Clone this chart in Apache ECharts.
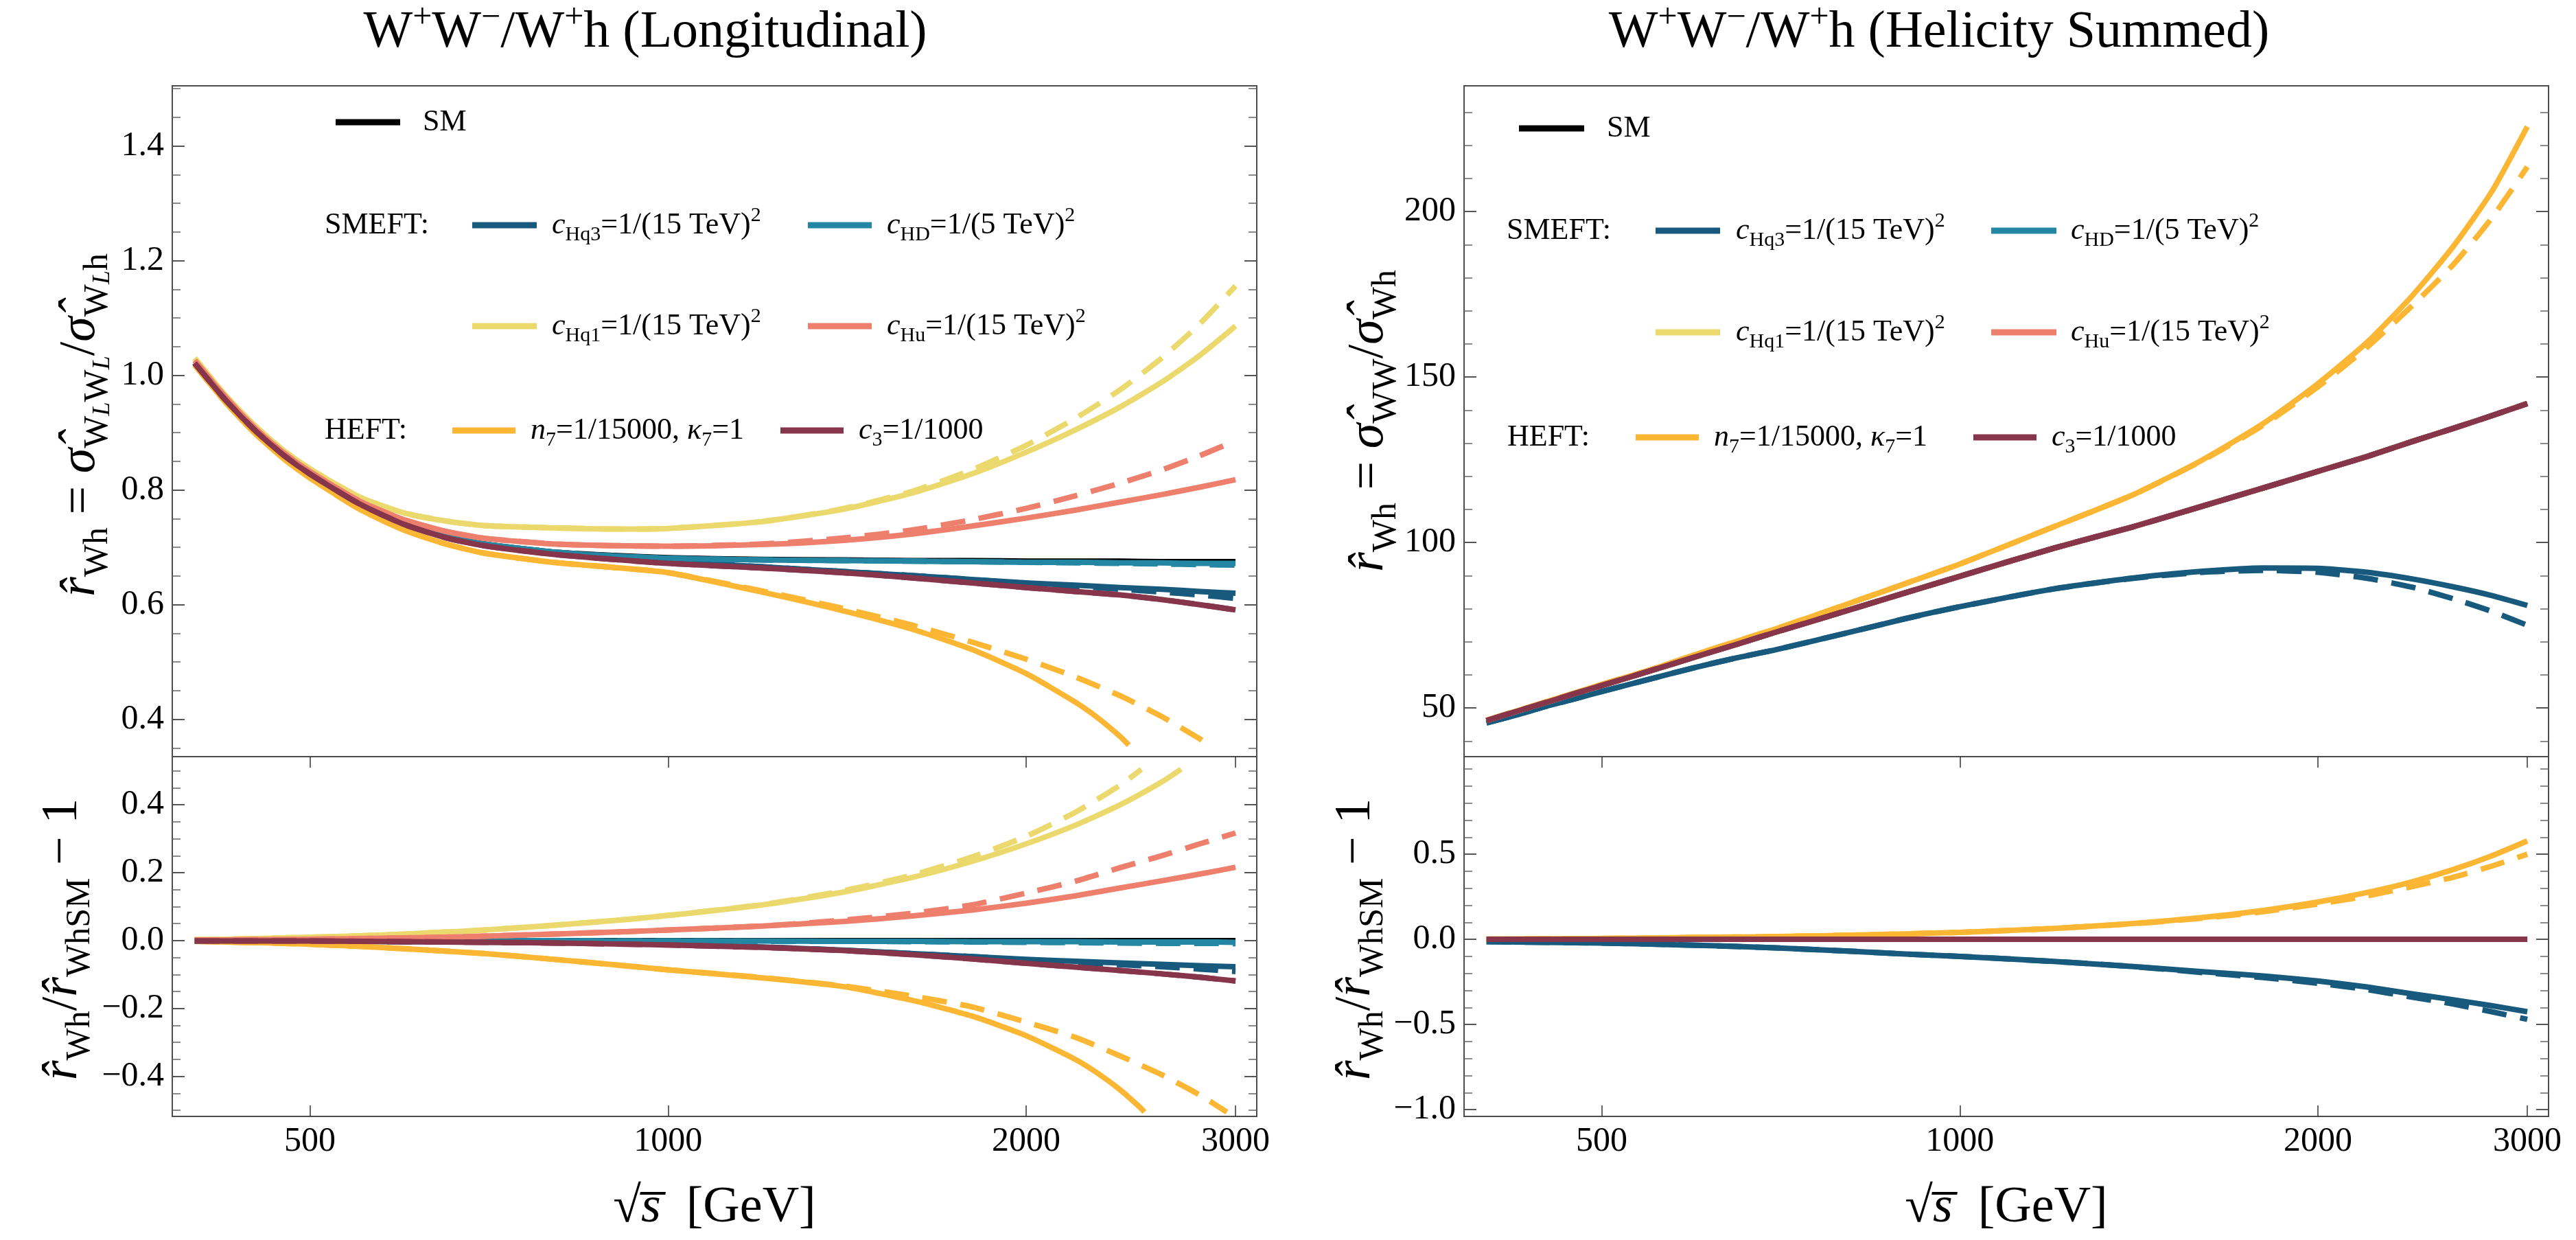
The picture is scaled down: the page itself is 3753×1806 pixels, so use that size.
<!DOCTYPE html>
<html><head><meta charset="utf-8">
<script src="https://cdn.jsdelivr.net/npm/echarts@6/dist/echarts.min.js"></script>
<style>html,body{margin:0;padding:0;background:#fff}#c{width:3753px;height:1806px}</style>
</head><body><div id="c"></div>
<script>
// ---------------- DATA ----------------
const S = [400,425,450,475,500,550,600,650,700,800,900,1000,1200,1400,1600,1800,2000,2200,2400,2600,2800,3000];
const xTicks = [500,1000,2000,3000];

// Left top: longitudinal ratio r_Wh
const ltSM   = [1.022,0.957,0.904,0.862,0.829,0.777,0.742,0.720,0.706,0.692,0.686,0.682,0.679,0.678,0.677,0.677,0.676,0.676,0.676,0.675,0.675,0.675];
const ltHq3  = [1.021,0.956,0.903,0.861,0.828,0.776,0.740,0.718,0.704,0.689,0.680,0.675,0.666,0.658,0.651,0.644,0.638,0.634,0.630,0.627,0.623,0.620];
const ltHq3d = [1.021,0.956,0.903,0.861,0.828,0.776,0.740,0.718,0.704,0.689,0.680,0.675,0.666,0.658,0.651,0.644,0.637,0.632,0.627,0.622,0.617,0.611];
const ltHD   = [1.022,0.957,0.904,0.862,0.829,0.777,0.742,0.720,0.706,0.692,0.685,0.681,0.678,0.677,0.676,0.675,0.674,0.674,0.673,0.673,0.672,0.672];
const ltHDd  = [1.022,0.957,0.904,0.862,0.829,0.777,0.742,0.720,0.706,0.692,0.685,0.681,0.678,0.677,0.676,0.675,0.674,0.673,0.672,0.671,0.670,0.669];
const ltHq1  = [1.030,0.964,0.911,0.869,0.837,0.788,0.760,0.746,0.738,0.734,0.732,0.733,0.745,0.766,0.794,0.828,0.866,0.905,0.945,0.988,1.035,1.086];
const ltHq1d = [1.030,0.964,0.911,0.869,0.837,0.788,0.760,0.746,0.738,0.734,0.732,0.733,0.745,0.767,0.797,0.835,0.878,0.925,0.975,1.030,1.090,1.156];
const ltHu   = [1.026,0.961,0.907,0.865,0.832,0.781,0.748,0.728,0.716,0.706,0.703,0.702,0.705,0.712,0.723,0.737,0.751,0.765,0.779,0.792,0.805,0.818];
const ltHud  = [1.026,0.961,0.907,0.865,0.832,0.781,0.748,0.728,0.716,0.706,0.703,0.702,0.706,0.716,0.730,0.748,0.768,0.790,0.812,0.835,0.860,0.886];
const ltN7x  = [400,425,450,475,500,550,600,650,700,800,900,1000,1200,1400,1600,1800,2000,2200,2300,2400,2440];
const ltN7   = [1.018,0.952,0.898,0.855,0.821,0.767,0.730,0.706,0.690,0.674,0.665,0.656,0.622,0.590,0.558,0.522,0.480,0.430,0.402,0.370,0.355];
const ltN7dx = [400,425,450,475,500,550,600,650,700,800,900,1000,1200,1400,1600,1800,2000,2200,2400,2600,2800,2850];
const ltN7d  = [1.018,0.952,0.898,0.855,0.821,0.767,0.730,0.706,0.690,0.674,0.665,0.656,0.624,0.594,0.565,0.535,0.505,0.474,0.441,0.405,0.366,0.355];
const ltC3   = [1.021,0.956,0.903,0.861,0.828,0.776,0.740,0.717,0.703,0.688,0.679,0.672,0.664,0.656,0.647,0.638,0.630,0.623,0.617,0.609,0.600,0.591];

// Left bottom: r_Wh / r_Wh,SM - 1
const lbSM   = [0,0,0,0,0,0,0,0,0,0,0,0,0,0,0,0,0,0,0,0,0,0];
const lbHq3  = [-0.001,-0.001,-0.001,-0.001,-0.002,-0.002,-0.003,-0.003,-0.004,-0.006,-0.008,-0.011,-0.019,-0.028,-0.038,-0.047,-0.055,-0.061,-0.066,-0.070,-0.074,-0.077];
const lbHq3d = [-0.001,-0.001,-0.001,-0.001,-0.002,-0.002,-0.003,-0.003,-0.004,-0.006,-0.008,-0.011,-0.019,-0.028,-0.038,-0.047,-0.057,-0.064,-0.071,-0.077,-0.084,-0.091];
const lbHD   = [0,0,0,0,0,0,0,0,0,0,-0.001,-0.001,-0.001,-0.002,-0.002,-0.003,-0.003,-0.003,-0.004,-0.004,-0.004,-0.005];
const lbHDd  = [0,0,0,0,0,0,0,0,0,0,-0.001,-0.001,-0.002,-0.002,-0.003,-0.004,-0.005,-0.006,-0.007,-0.008,-0.008,-0.009];
const lbHq1x = [400,425,450,475,500,550,600,650,700,800,900,1000,1200,1400,1600,1800,2000,2200,2400,2600,2700];
const lbHq1  = [0.003,0.004,0.006,0.008,0.010,0.014,0.019,0.025,0.031,0.045,0.059,0.074,0.105,0.142,0.185,0.233,0.285,0.340,0.400,0.467,0.505];
const lbHq1dx= [400,425,450,475,500,550,600,650,700,800,900,1000,1200,1400,1600,1800,2000,2200,2400,2500];
const lbHq1d = [0.003,0.004,0.006,0.008,0.010,0.014,0.019,0.025,0.031,0.045,0.059,0.074,0.106,0.146,0.192,0.246,0.307,0.378,0.458,0.505];
const lbHu   = [0.002,0.002,0.003,0.003,0.004,0.006,0.008,0.010,0.013,0.019,0.025,0.031,0.043,0.056,0.072,0.090,0.110,0.132,0.155,0.176,0.196,0.216];
const lbHud  = [0.002,0.002,0.003,0.003,0.004,0.006,0.008,0.010,0.013,0.019,0.025,0.031,0.043,0.060,0.080,0.105,0.140,0.175,0.215,0.250,0.285,0.317];
const lbN7x  = [400,425,450,475,500,550,600,650,700,800,900,1000,1200,1400,1600,1800,2000,2200,2300,2400,2500,2515];
const lbN7   = [-0.002,-0.004,-0.006,-0.008,-0.011,-0.017,-0.024,-0.031,-0.038,-0.055,-0.071,-0.086,-0.110,-0.135,-0.175,-0.222,-0.280,-0.350,-0.392,-0.440,-0.495,-0.505];
const lbN7dx = [400,425,450,475,500,550,600,650,700,800,900,1000,1200,1400,1600,1800,2000,2200,2400,2600,2800,2950];
const lbN7d  = [-0.002,-0.004,-0.006,-0.008,-0.011,-0.017,-0.024,-0.031,-0.038,-0.055,-0.071,-0.086,-0.109,-0.133,-0.163,-0.195,-0.240,-0.285,-0.340,-0.395,-0.455,-0.505];
const lbC3   = [-0.001,-0.001,-0.001,-0.001,-0.001,-0.002,-0.003,-0.004,-0.005,-0.007,-0.010,-0.013,-0.020,-0.029,-0.041,-0.054,-0.067,-0.078,-0.088,-0.098,-0.108,-0.119];

// Right top: helicity-summed ratio
const rtSM   = [46.2,49.1,51.8,54.4,56.8,61.3,65.5,69.3,72.9,79.2,84.8,89.8,98.3,104.8,111.0,116.5,121.5,126.0,130.5,134.5,138.3,142.0];
const rtC3   = [46.2,49.1,51.8,54.4,56.8,61.3,65.5,69.3,72.9,79.2,84.8,89.8,98.3,104.8,111.0,116.5,121.5,126.0,130.5,134.5,138.3,142.0];
const rtN7   = [46.3,49.2,52.0,54.6,57.1,61.6,66.2,70.2,73.9,81.1,87.6,93.5,104.8,114.5,125.0,136.0,148.0,160.5,174.5,189.5,206.0,225.7];
const rtN7d  = [46.3,49.2,52.0,54.6,57.1,61.6,66.2,70.2,73.9,81.1,87.6,93.5,104.8,114.5,124.8,135.5,147.0,159.0,171.5,184.0,198.0,213.5];
const rtHq3  = [45.5,48.0,50.6,52.8,55.0,58.8,62.3,65.2,67.6,72.5,77.0,80.6,86.0,89.3,91.3,92.3,92.2,91.0,89.0,86.6,84.0,81.0];
const rtHq3d = [45.5,48.0,50.6,52.8,55.0,58.8,62.3,65.2,67.6,72.5,77.0,80.6,86.0,89.2,91.0,91.6,91.0,89.2,86.5,83.0,79.2,75.0];

// Right bottom
const rbZero = [0,0,0,0,0,0,0,0,0,0,0,0,0,0,0,0,0,0,0,0,0,0];
const rbN7   = [0.001,0.002,0.003,0.004,0.005,0.008,0.011,0.013,0.016,0.024,0.032,0.041,0.064,0.093,0.128,0.170,0.219,0.275,0.338,0.410,0.490,0.578];
const rbN7d  = [0.001,0.002,0.003,0.004,0.005,0.008,0.011,0.013,0.016,0.024,0.032,0.041,0.064,0.092,0.124,0.163,0.207,0.255,0.310,0.365,0.430,0.500];
const rbHq3  = [-0.014,-0.016,-0.018,-0.020,-0.022,-0.028,-0.035,-0.042,-0.050,-0.068,-0.086,-0.100,-0.130,-0.160,-0.190,-0.215,-0.245,-0.280,-0.320,-0.355,-0.390,-0.425];
const rbHq3d = [-0.014,-0.016,-0.018,-0.020,-0.022,-0.028,-0.035,-0.042,-0.050,-0.068,-0.086,-0.100,-0.130,-0.160,-0.195,-0.225,-0.258,-0.295,-0.340,-0.380,-0.425,-0.470];

// axis ticks
const ltMajor = [0.4,0.6,0.8,1.0,1.2,1.4];
const ltMinor = [0.35,0.45,0.5,0.55,0.65,0.7,0.75,0.85,0.9,0.95,1.05,1.1,1.15,1.25,1.3,1.35,1.45,1.5];
const lbMajor = [-0.4,-0.2,0,0.2,0.4];
const lbMinor = [-0.5,-0.45,-0.35,-0.3,-0.25,-0.15,-0.1,-0.05,0.05,0.1,0.15,0.25,0.3,0.35,0.45,0.5];
const rtMajor = [50,100,150,200];
const rtMinor = [40,60,70,80,90,110,120,130,140,160,170,180,190,210,220,230];
const rbMajor = [-1.0,-0.5,0,0.5];
const rbMinor = [-0.9,-0.8,-0.7,-0.6,-0.4,-0.3,-0.2,-0.1,0.1,0.2,0.3,0.4,0.6,0.7,0.8,0.9,1.0];

// ---------------- STYLE / BUILD ----------------
const FONT = "'Liberation Serif','Times New Roman',serif";
const COL = {SM:'#000000', Hq3:'#175a7e', HD:'#2387a3', Hq1:'#ecd96e', Hu:'#ed7f6c', n7:'#fbb634', c3:'#86354b'};
const DASH = [36, 20];

const gridBoxes = [
  {left:251, top:125, width:1580, height:977},
  {left:251, top:1102, width:1580, height:524},
  {left:2133, top:125, width:1580, height:977},
  {left:2133, top:1102, width:1580, height:524}
];
const grid = gridBoxes.map(g => Object.assign({show:true, borderColor:'#4d4d4d', borderWidth:2,
  backgroundColor:'transparent', containLabel:false, outerBoundsMode:'none'}, g));

const xAxis = [];
[0,1,2,3].forEach(gi => {
  const bottom = (gi === 1 || gi === 3);
  xAxis.push({type:'log', logBase:10, gridIndex:gi, min:383, max:3126, position:'bottom',
    axisLine:{show:false, onZero:false}, splitLine:{show:false},
    axisTick:{show:bottom, inside:true, length:16, customValues:xTicks, lineStyle:{color:'#333', width:1.5}},
    axisLabel:{show:bottom, customValues:xTicks, margin:12, fontFamily:FONT, fontSize:50, color:'#000',
      formatter: v => String(Math.round(v))}});
});
[1,3].forEach(gi => {
  xAxis.push({type:'log', logBase:10, gridIndex:gi, min:383, max:3126, position:'top',
    axisLine:{show:false, onZero:false}, splitLine:{show:false},
    axisTick:{show:true, inside:true, length:16, customValues:xTicks, lineStyle:{color:'#333', width:1.5}},
    axisLabel:{show:false}});
});

const yCfg = [
  {min:0.335, max:1.505, major:ltMajor, minor:ltMinor, fmt: v => v.toFixed(1)},
  {min:-0.518, max:0.542, major:lbMajor, minor:lbMinor, fmt: v => (v < -1e-9 ? '\u2212' : '') + Math.abs(v).toFixed(1)},
  {min:35.3, max:238, major:rtMajor, minor:rtMinor, fmt: v => String(Math.round(v))},
  {min:-1.04, max:1.073, major:rbMajor, minor:rbMinor, fmt: v => (v < -1e-9 ? '\u2212' : '') + Math.abs(v).toFixed(1)}
];
const yAxis = [];
yCfg.forEach((c, gi) => {
  const base = {type:'value', gridIndex:gi, min:c.min, max:c.max, splitLine:{show:false},
    axisLine:{show:false, onZero:false}};
  yAxis.push(Object.assign({}, base, {position:'left',
    axisTick:{show:true, inside:true, length:18, customValues:c.major, lineStyle:{color:'#555', width:2}},
    axisLabel:{show:true, customValues:c.major, margin:12, fontFamily:FONT, fontSize:50, color:'#000', formatter:c.fmt}}));
  yAxis.push(Object.assign({}, base, {position:'left',
    axisTick:{show:true, inside:true, length:12, customValues:c.minor, lineStyle:{color:'#666', width:1.5}},
    axisLabel:{show:false}}));
  yAxis.push(Object.assign({}, base, {position:'right',
    axisTick:{show:true, inside:true, length:18, customValues:c.major, lineStyle:{color:'#555', width:2}},
    axisLabel:{show:false}}));
  yAxis.push(Object.assign({}, base, {position:'right',
    axisTick:{show:true, inside:true, length:12, customValues:c.minor, lineStyle:{color:'#666', width:1.5}},
    axisLabel:{show:false}}));
});

function pts(xs, ys) { return ys.map((y, i) => [xs[i], y]); }
function ln(gi, xs, ys, color, dashed) {
  return {type:'line', xAxisIndex:gi, yAxisIndex:gi*4, data:pts(xs, ys), symbol:'none', showSymbol:false,
    smooth:0.2, silent:true, animation:false, clip:true,
    lineStyle:{color, width:8, type: dashed ? DASH : 'solid', cap:'butt', join:'round'}};
}
const series = [
  // left top
  ln(0,S,ltSM,COL.SM,false),
  ln(0,S,ltHq3,COL.Hq3,false), ln(0,S,ltHq3d,COL.Hq3,true),
  ln(0,S,ltHD,COL.HD,false), ln(0,S,ltHDd,COL.HD,true),
  ln(0,S,ltHq1,COL.Hq1,false), ln(0,S,ltHq1d,COL.Hq1,true),
  ln(0,S,ltHu,COL.Hu,false), ln(0,S,ltHud,COL.Hu,true),
  ln(0,ltN7x,ltN7,COL.n7,false), ln(0,ltN7dx,ltN7d,COL.n7,true),
  ln(0,S,ltC3,COL.c3,false), ln(0,S,ltC3,COL.c3,true),
  // left bottom
  ln(1,S,lbSM,COL.SM,false),
  ln(1,S,lbHq3,COL.Hq3,false), ln(1,S,lbHq3d,COL.Hq3,true),
  ln(1,S,lbHD,COL.HD,false), ln(1,S,lbHDd,COL.HD,true),
  ln(1,lbHq1x,lbHq1,COL.Hq1,false), ln(1,lbHq1dx,lbHq1d,COL.Hq1,true),
  ln(1,S,lbHu,COL.Hu,false), ln(1,S,lbHud,COL.Hu,true),
  ln(1,lbN7x,lbN7,COL.n7,false), ln(1,lbN7dx,lbN7d,COL.n7,true),
  ln(1,S,lbC3,COL.c3,false), ln(1,S,lbC3,COL.c3,true),
  // right top
  ln(2,S,rtSM,COL.SM,false),
  ln(2,S,rtHq3,COL.Hq3,false), ln(2,S,rtHq3d,COL.Hq3,true),
  ln(2,S,rtSM,COL.HD,false), ln(2,S,rtSM,COL.Hq1,false), ln(2,S,rtSM,COL.Hu,false),
  ln(2,S,rtN7,COL.n7,false), ln(2,S,rtN7d,COL.n7,true),
  ln(2,S,rtC3,COL.c3,false), ln(2,S,rtC3,COL.c3,true),
  // right bottom
  ln(3,S,rbZero,COL.SM,false),
  ln(3,S,rbHq3,COL.Hq3,false), ln(3,S,rbHq3d,COL.Hq3,true),
  ln(3,S,rbZero,COL.HD,false), ln(3,S,rbZero,COL.Hq1,false), ln(3,S,rbZero,COL.Hu,false),
  ln(3,S,rbN7,COL.n7,false), ln(3,S,rbN7d,COL.n7,true),
  ln(3,S,rbZero,COL.c3,false)
];

// ---------------- TEXT / LEGEND GRAPHICS ----------------
const legRich = {
  n:{fontFamily:FONT, fontSize:44, lineHeight:58},
  i:{fontFamily:FONT, fontSize:44, fontStyle:'italic', lineHeight:58},
  sub:{fontFamily:FONT, fontSize:30, lineHeight:30, verticalAlign:'bottom'},
  sup:{fontFamily:FONT, fontSize:30, lineHeight:30, verticalAlign:'top'}
};
function gText(x, y, text, rich, align, rot) {
  const o = {type:'text', x, y, silent:true, z:100,
    style:{text, rich, fill:'#000', align: align || 'left', verticalAlign:'middle', font:'44px ' + FONT}};
  if (rot) o.rotation = rot;
  return o;
}
function gLine(x1, x2, y, color) {
  return {type:'line', silent:true, z:100, shape:{x1, y1:y, x2, y2:y}, style:{stroke:color, lineWidth:9}};
}
const L = {
  Hq3:'{i|c}{sub|Hq3}{n|=1/(15 TeV)}{sup|2}',
  HD:'{i|c}{sub|HD}{n|=1/(5 TeV)}{sup|2}',
  Hq1:'{i|c}{sub|Hq1}{n|=1/(15 TeV)}{sup|2}',
  Hu:'{i|c}{sub|Hu}{n|=1/(15 TeV)}{sup|2}',
  n7:'{i|n}{sub|7}{n|=1/15000, }{i|\u03ba}{sub|7}{n|=1}',
  c3:'{i|c}{sub|3}{n|=1/1000}'
};
const graphic = [];
// left legend
graphic.push(gLine(489,583,178,COL.SM), gText(616,178,'{n|SM}',legRich));
graphic.push(gText(473,328,'{n|SMEFT:}',legRich));
graphic.push(gLine(688,782,328,COL.Hq3), gText(804,328,L.Hq3,legRich));
graphic.push(gLine(1177,1270,328,COL.HD), gText(1292,328,L.HD,legRich));
graphic.push(gLine(688,782,475,COL.Hq1), gText(804,475,L.Hq1,legRich));
graphic.push(gLine(1177,1270,475,COL.Hu), gText(1292,475,L.Hu,legRich));
graphic.push(gText(473,627,'{n|HEFT:}',legRich));
graphic.push(gLine(659,751,627,COL.n7), gText(773,627,L.n7,legRich));
graphic.push(gLine(1137,1229,627,COL.c3), gText(1251,627,L.c3,legRich));
// right legend
graphic.push(gLine(2213,2308,187,COL.SM), gText(2341,187,'{n|SM}',legRich));
graphic.push(gText(2195,336,'{n|SMEFT:}',legRich));
graphic.push(gLine(2412,2506,336,COL.Hq3), gText(2529,336,L.Hq3,legRich));
graphic.push(gLine(2901,2996,336,COL.HD), gText(3017,336,L.HD,legRich));
graphic.push(gLine(2412,2506,484,COL.Hq1), gText(2529,484,L.Hq1,legRich));
graphic.push(gLine(2901,2996,484,COL.Hu), gText(3017,484,L.Hu,legRich));
graphic.push(gText(2196,637,'{n|HEFT:}',legRich));
graphic.push(gLine(2383,2475,637,COL.n7), gText(2497,637,L.n7,legRich));
graphic.push(gLine(2875,2967,637,COL.c3), gText(2989,637,L.c3,legRich));

// titles
const titleRich = {
  n:{fontFamily:FONT, fontSize:76, lineHeight:92},
  sup:{fontFamily:FONT, fontSize:50, lineHeight:50, verticalAlign:'top'}
};
graphic.push(gText(940,48,'{n|W}{sup|+}{n|W}{sup|\u2212}{n|/W}{sup|+}{n|h (Longitudinal)}',titleRich,'center'));
graphic.push(gText(2825,48,'{n|W}{sup|+}{n|W}{sup|\u2212}{n|/W}{sup|+}{n|h (Helicity Summed)}',titleRich,'center'));

// axis titles
const axRich = {
  n:{fontFamily:FONT, fontSize:74, lineHeight:100},
  i:{fontFamily:FONT, fontSize:74, fontStyle:'italic', lineHeight:100},
  sub:{fontFamily:FONT, fontSize:50, lineHeight:50, verticalAlign:'bottom'},
  ss:{fontFamily:FONT, fontSize:36, fontStyle:'italic', lineHeight:30, verticalAlign:'bottom'}
};
const R = Math.PI / 2;
graphic.push(gText(118,619,'{i|r\u0302}{sub|Wh}{n| = }{i|\u03c3\u0302}{sub|W}{ss|L}{sub|W}{ss|L}{n|/}{i|\u03c3\u0302}{sub|W}{ss|L}{sub|h}',axRich,'center',R));
graphic.push(gText(92,1368,'{i|r\u0302}{sub|Wh}{n|/}{i|r\u0302}{sub|WhSM}{n| \u2212 1}',axRich,'center',R));
graphic.push(gText(1995,613,'{i|r\u0302}{sub|Wh}{n| = }{i|\u03c3\u0302}{sub|WW}{n|/}{i|\u03c3\u0302}{sub|Wh}',axRich,'center',R));
graphic.push(gText(1976,1368,'{i|r\u0302}{sub|Wh}{n|/}{i|r\u0302}{sub|WhSM}{n| \u2212 1}',axRich,'center',R));
const xtRich = {
  n:{fontFamily:FONT, fontSize:74, lineHeight:90},
  i:{fontFamily:FONT, fontSize:74, fontStyle:'italic', lineHeight:90}
};
graphic.push(gText(1041,1760,'{n|\u221a}{i|s\u0305}{n|  [GeV]}',xtRich,'center'));
graphic.push(gText(2923,1760,'{n|\u221a}{i|s\u0305}{n|  [GeV]}',xtRich,'center'));

const chart = echarts.init(document.getElementById('c'), null, {renderer:'canvas'});
chart.setOption({animation:false, backgroundColor:'#ffffff', grid, xAxis, yAxis, series, graphic});
</script>
</body></html>
